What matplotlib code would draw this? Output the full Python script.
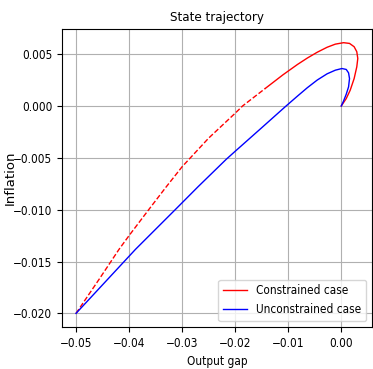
import matplotlib
matplotlib.use("Agg")
import matplotlib.pyplot as plt

# Constrained case, part where the constraint binds (dashed)
con_x_dash = [-0.0500, -0.0455, -0.0419, -0.0400, -0.0363, -0.0330, -0.0300,
              -0.0250, -0.0200, -0.0186, -0.0143]
con_y_dash = [-0.0200, -0.0166, -0.01383, -0.01250, -0.0100, -0.0078, -0.00586,
              -0.0031, -0.0007, 0.0000, 0.0017]

# Constrained case, after the constraint stops binding (solid)
con_x = [-0.0143, -0.0110, -0.00826, -0.0064, -0.00453, -0.00267, -0.00112, 0.00043,
         0.00155, 0.00242, 0.00292, 0.00311, 0.00292, 0.00242, 0.00168, 0.00093, 0.0]
con_y = [0.0017, 0.0030, 0.0040, 0.00462, 0.00518, 0.00566, 0.00596, 0.0061,
         0.00603, 0.00571, 0.00523, 0.00458, 0.00377, 0.00264, 0.00152, 0.00071, 0.0]

# Unconstrained case
unc_x = [-0.0500, -0.0388, -0.0313, -0.0270, -0.0217, -0.0200, -0.0150, -0.0104,
         -0.00826, -0.0064, -0.00453, -0.00267, -0.00112, 0.00012, 0.00093, 0.00137,
         0.00155, 0.00137, 0.00093, 0.00043, 0.0]
unc_y = [-0.0200, -0.01383, -0.0100, -0.00779, -0.00515, -0.00437, -0.0021, 0.0000,
         0.00095, 0.00176, 0.00250, 0.00310, 0.00345, 0.00361, 0.00352, 0.00319,
         0.00264, 0.00184, 0.00113, 0.00048, 0.0]

plt.rcParams['font.family'] = ['DejaVu Sans']
plt.rcParams['font.stretch'] = 'condensed'
plt.rcParams['font.size'] = 8.5

fig = plt.figure(figsize=(3.73, 3.69), dpi=100)
ax = fig.add_axes([0.166, 0.114, 0.831, 0.807])

ax.plot(con_x_dash, con_y_dash, color='red', linewidth=1, linestyle='--')
ax.plot(con_x, con_y, color='red', linewidth=1, label='Constrained case')
ax.plot(unc_x, unc_y, color='blue', linewidth=1, label='Unconstrained case')

ax.grid(True)
ax.set_title("State trajectory", fontsize=9.5)
ax.set_xlabel("Output gap")
ax.set_ylabel("Inflation", fontsize=9.5, fontstretch='normal')
ax.yaxis.set_label_coords(-0.145, 0.5)
ax.set_xticks([-0.05, -0.04, -0.03, -0.02, -0.01, 0.00])
ax.set_yticks([-0.020, -0.015, -0.010, -0.005, 0.000, 0.005])
ax.legend(loc='lower right', fontsize=8.5)

fig.savefig("out.png", dpi=100)
